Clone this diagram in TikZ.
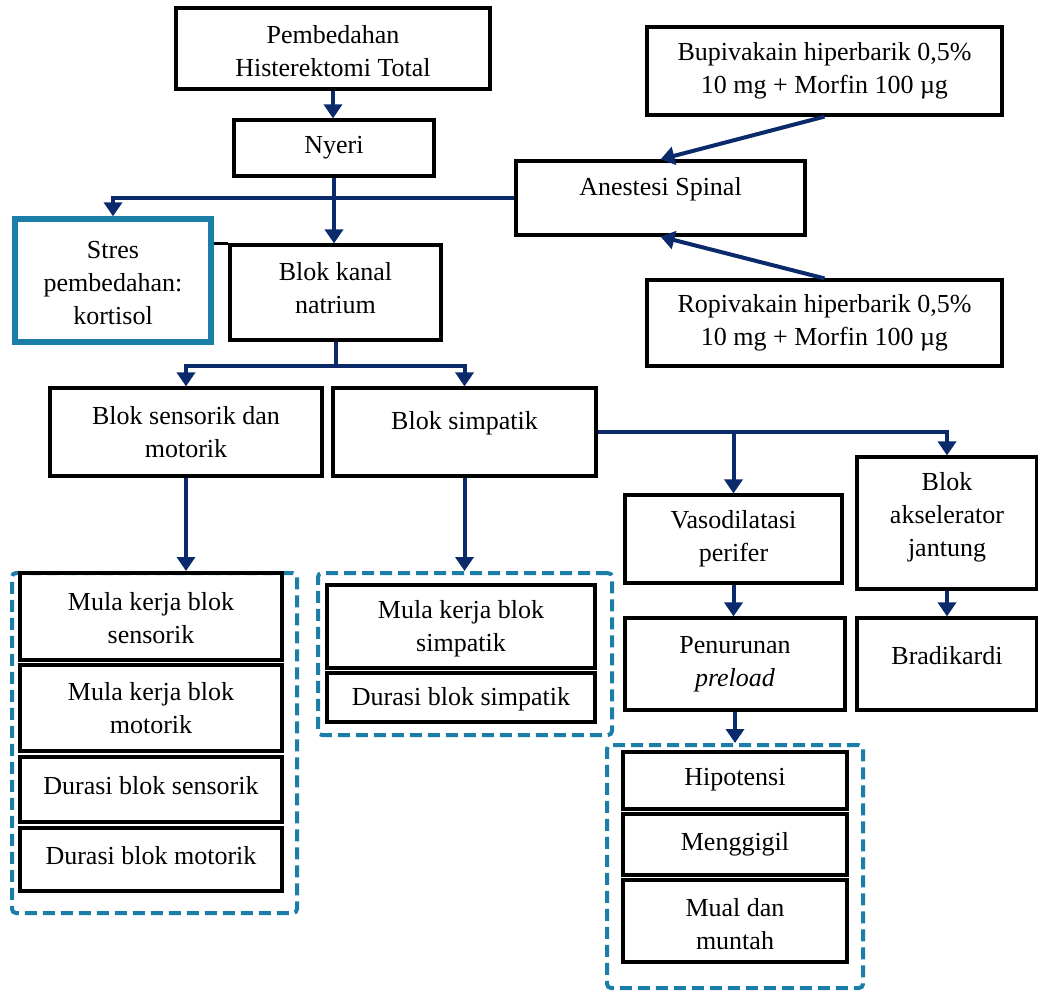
\documentclass[tikz,border=0pt]{standalone}
\usepackage{fontspec}
\setmainfont{Liberation Serif}
\usetikzlibrary{arrows.meta,fit,calc}
\definecolor{navy}{HTML}{0B2A6B}
\definecolor{grpblue}{HTML}{1A7EA8}
\begin{document}
\begin{tikzpicture}[x=0.75pt,y=-0.75pt,
  box/.style={draw=black, line width=2.4pt, inner sep=0pt},
  stresbox/.style={draw=grpblue, line width=4pt, inner sep=0pt},
  grp/.style={draw=grpblue, line width=3pt, dash pattern=on 9pt off 4.5pt, rounded corners=3pt, inner sep=0pt},
  txt/.style={font=\fontsize{19.5}{24.75}\selectfont, align=center, text=black},
  conn/.style={draw=navy, line width=3pt, -{Triangle[width=13.5pt,length=10.5pt]}},
  plain/.style={draw=navy, line width=3pt},
]
\useasboundingbox (0,0) rectangle (1038,991);

% dashed groups
\node[grp, fit={(12,573)(297,913)}] (grp1) {};
\node[grp, fit={(318,573)(612,735)}] (grp2) {};
\node[grp, fit={(607,745)(863,988)}] (grp3) {};

% top boxes
\node[box, fit={(176,8)(490,89)}, label={[txt, yshift=-2pt]center:{Pembedahan\\Histerektomi Total}}] (pemb) {};
\node[box, fit={(234,120)(434,176)}, label={[txt]center:{Nyeri}}] (nyeri) {};
\node[box, fit={(647,27)(1002,115)}, label={[txt]center:{Bupivakain hiperbarik 0,5\%\\10 mg + Morfin 100 µg}}] (bupi) {};
\node[box, fit={(516,161)(805,235)}, label={[txt, yshift=6.5pt]center:{Anestesi Spinal}}] (anest) {};
\node[box, fit={(647,280)(1002,366)}, label={[txt]center:{Ropivakain hiperbarik 0,5\%\\10 mg + Morfin 100 µg}}] (ropi) {};
\node[stresbox, fit={(15,219)(211,342)}, label={[txt, yshift=-2pt]center:{Stres\\pembedahan:\\kortisol}}] (stres) {};
\node[box, fit={(230,245)(441,340)}, label={[txt, yshift=3pt]center:{Blok kanal\\natrium}}] (kanal) {};

% second level
\node[box, fit={(50,388)(322,476)}, label={[txt]center:{Blok sensorik dan\\motorik}}] (sens) {};
\node[box, fit={(333,388)(596,476)}, label={[txt, yshift=6.5pt]center:{Blok simpatik}}] (simp) {};
\node[box, fit={(625,495)(842,583)}, label={[txt]center:{Vasodilatasi\\perifer}}] (vaso) {};
\node[box, fit={(857,457)(1037,589)}, label={[txt, yshift=4pt]center:{Blok\\akselerator\\jantung}}] (aksel) {};
\node[box, fit={(625,618)(845,710)}, label={[txt]center:{Penurunan\\\textit{preload}}}] (pen) {};
\node[box, fit={(857,618)(1037,710)}, label={[txt, yshift=6.5pt]center:{Bradikardi}}] (brad) {};

% group 1 contents
\node[box, fit={(20,573)(282,660)}, label={[txt, yshift=-1.5pt]center:{Mula kerja blok\\sensorik}}] (mks) {};
\node[box, fit={(20,665)(282,751)}, label={[txt]center:{Mula kerja blok\\motorik}}] (mkm) {};
\node[box, fit={(20,757)(282,822)}, label={[txt, yshift=3pt]center:{Durasi blok sensorik}}] (dbs) {};
\node[box, fit={(20,828)(282,891)}, label={[txt, yshift=3pt]center:{Durasi blok motorik}}] (dbm) {};

% group 2 contents
\node[box, fit={(327,585)(595,668)}, label={[txt, yshift=-1.5pt]center:{Mula kerja blok\\simpatik}}] (mksi) {};
\node[box, fit={(327,673)(595,722)}, label={[txt, yshift=-1.5pt]center:{Durasi blok simpatik}}] (dbsi) {};

% group 3 contents
\node[box, fit={(623,752)(847,809)}, label={[txt, yshift=1pt]center:{Hipotensi}}] (hipo) {};
\node[box, fit={(623,814)(847,875)}, label={[txt, yshift=0.5pt]center:{Menggigil}}] (meng) {};
\node[box, fit={(623,880)(847,962)}, label={[txt, yshift=-2.5pt]center:{Mual dan\\muntah}}] (mual) {};

% connectors
\draw[conn] (pemb.south) -- (pemb.south |- nyeri.north);
\draw[conn] (nyeri.south) -- (nyeri.south |- kanal.north);
\draw[conn] (anest.west) -| (stres.north);
\draw[conn] (bupi.south) -- (anest.north);
\draw[conn] (ropi.north) -- (anest.south);
\draw[line width=2.4pt] (stres.east |- kanal.north) -- (kanal.north west);
\coordinate (ksplit) at ($(kanal.south)+(0,24)$);
\draw[plain] (kanal.south) -- (ksplit);
\draw[conn] (ksplit) -| (sens.north);
\draw[conn] (ksplit) -| (simp.north);
\draw[conn] (sens.south) -- (sens.south |- grp1.north);
\draw[conn] (simp.south) -- (simp.south |- grp2.north);
\draw[conn] (simp.east) -| (vaso.north);
\draw[conn] (simp.east) -| (aksel.north);
\draw[conn] (vaso.south) -- (vaso.south |- pen.north);
\draw[conn] (aksel.south) -- (aksel.south |- brad.north);
\draw[conn] (pen.south) -- (pen.south |- grp3.north);
\end{tikzpicture}
\end{document}
